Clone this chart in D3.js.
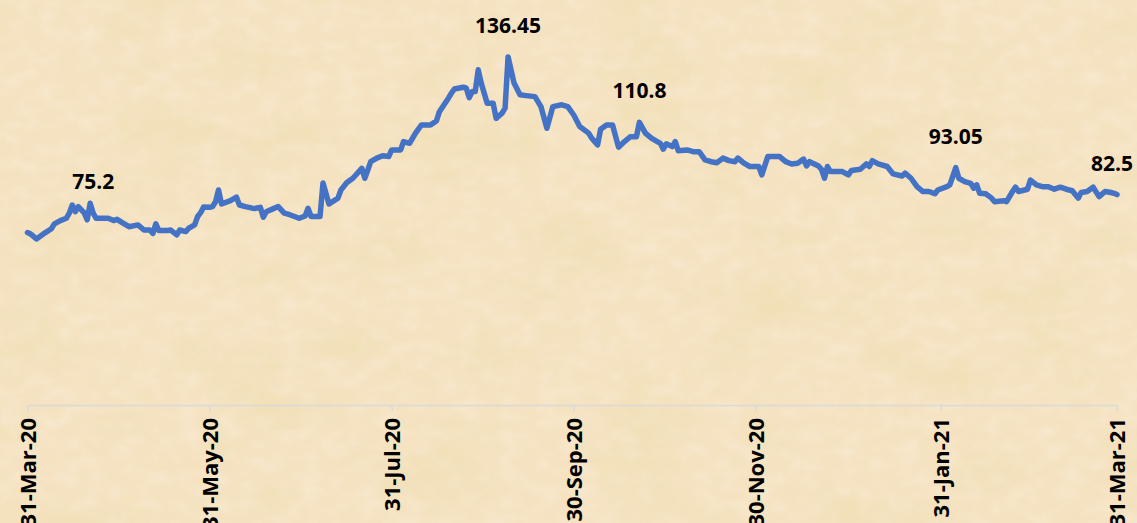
<!DOCTYPE html>
<html>
<head>
<meta charset="utf-8">
<script src="https://cdn.jsdelivr.net/npm/d3@7"></script>
<style>
  body { margin: 0; background: #f5e3c3; }
  svg { display: block; }
</style>
</head>
<body>
<div id="chart"></div>
<script>
// daily closing values
var dates = [
  "2020-03-31","2020-04-01","2020-04-03","2020-04-06","2020-04-08","2020-04-09","2020-04-11","2020-04-13","2020-04-14","2020-04-15",
  "2020-04-16","2020-04-17","2020-04-19","2020-04-20","2020-04-21","2020-04-22","2020-04-23","2020-04-27","2020-04-29","2020-04-30",
  "2020-05-02","2020-05-04","2020-05-07","2020-05-09","2020-05-11","2020-05-12","2020-05-13","2020-05-14","2020-05-17","2020-05-18",
  "2020-05-20","2020-05-21","2020-05-23","2020-05-24","2020-05-26","2020-05-27","2020-05-28","2020-05-29","2020-05-31","2020-06-01",
  "2020-06-02","2020-06-03","2020-06-04","2020-06-07","2020-06-09","2020-06-10","2020-06-12","2020-06-15","2020-06-17","2020-06-18",
  "2020-06-19","2020-06-21","2020-06-23","2020-06-25","2020-06-26","2020-06-28","2020-06-30","2020-07-02","2020-07-03","2020-07-04",
  "2020-07-07","2020-07-08","2020-07-10","2020-07-13","2020-07-14","2020-07-16","2020-07-18","2020-07-21","2020-07-22","2020-07-24",
  "2020-07-26","2020-07-28","2020-07-30","2020-07-31","2020-08-03","2020-08-04","2020-08-06","2020-08-08","2020-08-10","2020-08-13",
  "2020-08-15","2020-08-16","2020-08-19","2020-08-20","2020-08-21","2020-08-24","2020-08-25","2020-08-26","2020-08-27","2020-08-28",
  "2020-08-29","2020-08-30","2020-09-01","2020-09-03","2020-09-04","2020-09-06","2020-09-07","2020-09-08","2020-09-10","2020-09-12",
  "2020-09-14","2020-09-17","2020-09-19","2020-09-21","2020-09-23","2020-09-26","2020-09-28","2020-09-30","2020-10-02","2020-10-05",
  "2020-10-06","2020-10-08","2020-10-09","2020-10-11","2020-10-13","2020-10-15","2020-10-17","2020-10-19","2020-10-21","2020-10-22",
  "2020-10-24","2020-10-26","2020-10-29","2020-10-30","2020-10-31","2020-11-02","2020-11-03","2020-11-04","2020-11-07","2020-11-09",
  "2020-11-11","2020-11-13","2020-11-15","2020-11-17","2020-11-19","2020-11-21","2020-11-23","2020-11-24","2020-11-26","2020-11-28",
  "2020-12-01","2020-12-02","2020-12-04","2020-12-08","2020-12-10","2020-12-12","2020-12-14","2020-12-16","2020-12-17","2020-12-18",
  "2020-12-21","2020-12-22","2020-12-23","2020-12-24","2020-12-25","2020-12-29","2020-12-31","2021-01-01","2021-01-04","2021-01-06",
  "2021-01-07","2021-01-08","2021-01-10","2021-01-13","2021-01-15","2021-01-18","2021-01-19","2021-01-21","2021-01-23","2021-01-25",
  "2021-01-27","2021-01-29","2021-01-30","2021-02-02","2021-02-03","2021-02-05","2021-02-06","2021-02-08","2021-02-10","2021-02-11",
  "2021-02-12","2021-02-13","2021-02-15","2021-02-17","2021-02-18","2021-02-21","2021-02-22","2021-02-24","2021-02-25","2021-02-26",
  "2021-03-01","2021-03-02","2021-03-04","2021-03-06","2021-03-08","2021-03-10","2021-03-12","2021-03-14","2021-03-16","2021-03-18",
  "2021-03-19","2021-03-21","2021-03-23","2021-03-25","2021-03-27","2021-03-29","2021-03-30","2021-03-31"
];
var prices = [
  67.6, 67.1, 65.1, 67.6, 69.1, 71.0, 72.3, 73.2, 75.2, 78.4,
  75.8, 77.8, 75.3, 72.6, 79.1, 75.2, 73.2, 73.2, 72.3, 72.8,
  71.3, 69.9, 70.6, 68.6, 68.6, 67.3, 71.0, 68.4, 68.4, 68.6,
  66.7, 68.6, 68.0, 69.3, 70.6, 73.9, 75.4, 77.6, 77.5, 77.8,
  79.7, 84.3, 78.8, 80.1, 81.5, 78.4, 77.8, 77.0, 77.5, 73.6,
  75.8, 76.8, 77.8, 75.2, 74.9, 74.1, 73.2, 74.1, 77.1, 73.9,
  73.9, 87.0, 78.8, 81.1, 84.3, 87.2, 88.9, 92.8, 88.9, 95.4,
  96.8, 97.7, 97.4, 100.0, 100.0, 103.3, 102.6, 106.6, 109.8, 109.8,
  111.4, 115.0, 120.3, 122.2, 123.9, 124.6, 124.2, 120.5, 122.9, 122.9,
  131.4, 126.2, 118.3, 118.3, 112.4, 114.4, 116.4, 136.45, 126.2, 121.6,
  121.3, 120.9, 117.0, 108.5, 117.0, 117.7, 117.0, 113.7, 109.2, 106.6,
  104.6, 102.0, 108.1, 109.8, 109.8, 101.1, 103.3, 105.2, 105.2, 110.8,
  106.6, 104.6, 102.6, 100.3, 102.4, 101.3, 103.3, 99.7, 100.0, 99.3,
  99.3, 96.1, 95.4, 95.0, 96.8, 95.8, 95.4, 96.8, 94.8, 93.5,
  93.5, 90.2, 97.4, 97.4, 95.4, 94.5, 94.8, 96.4, 93.7, 95.4,
  93.7, 92.4, 88.9, 93.5, 91.5, 91.5, 90.2, 91.9, 92.4, 94.5,
  93.5, 95.8, 94.5, 93.5, 90.6, 89.8, 90.9, 88.9, 85.6, 83.7,
  83.7, 82.8, 84.3, 85.6, 86.3, 93.05, 88.9, 87.6, 86.9, 85.0,
  86.3, 83.0, 82.8, 81.1, 79.7, 80.1, 79.7, 83.7, 85.4, 83.7,
  84.6, 88.2, 86.3, 85.6, 85.6, 84.6, 85.4, 84.6, 84.0, 81.1,
  83.3, 83.7, 85.4, 81.7, 83.7, 83.3, 83.0, 82.5
];

// axis ticks
var tickDates = ["2020-03-31","2020-05-31","2020-07-31","2020-09-30","2020-11-30","2021-01-31","2021-03-31"];

// labelled points
var labelDates = ["2020-04-22","2020-09-08","2020-10-22","2021-02-05","2021-03-31"];
var labelTexts = ["75.2","136.45","110.8","93.05","82.5"];

var width = 1137, height = 523;
var parse = d3.timeParse("%Y-%m-%d");

var data = dates.map(function(d, i) { return {date: parse(d), value: prices[i]}; });

var x = d3.scaleTime()
    .domain([parse("2020-03-31"), parse("2021-03-31")])
    .range([27.5, 1117]);
var y = d3.scaleLinear()
    .domain([0, 158])
    .range([405, 2]);

var svg = d3.select("#chart").append("svg")
    .attr("width", width)
    .attr("height", height);

// parchment background
var defs = svg.append("defs");
var f = defs.append("filter").attr("id", "paper")
    .attr("x", 0).attr("y", 0).attr("width", "100%").attr("height", "100%");
f.append("feTurbulence")
    .attr("type", "fractalNoise")
    .attr("baseFrequency", "0.01 0.018")
    .attr("numOctaves", 4)
    .attr("seed", 11);
f.append("feColorMatrix")
    .attr("type", "matrix")
    .attr("values", "0 0 0 0 0.84  0 0 0 0 0.72  0 0 0 0 0.40  0 0 0 1.9 -0.9");
var f2 = defs.append("filter").attr("id", "grain")
    .attr("x", 0).attr("y", 0).attr("width", "100%").attr("height", "100%");
f2.append("feTurbulence")
    .attr("type", "fractalNoise")
    .attr("baseFrequency", "0.05 0.07")
    .attr("numOctaves", 2)
    .attr("seed", 2);
f2.append("feColorMatrix")
    .attr("type", "matrix")
    .attr("values", "0 0 0 0 1  0 0 0 0 0.95  0 0 0 0 0.86  0 0 0 1.2 -0.5");

svg.append("rect").attr("width", width).attr("height", height).style("fill", "#f5e2c1");
svg.append("rect").attr("width", width).attr("height", height)
    .attr("filter", "url(#grain)").style("opacity", 0.45);
svg.append("rect").attr("width", width).attr("height", height)
    .attr("filter", "url(#paper)").style("opacity", 0.6);

// x axis
var xAxis = svg.append("g")
    .attr("transform", "translate(0,405)")
    .call(d3.axisBottom(x)
      .tickValues(tickDates.map(parse))
      .tickFormat(d3.timeFormat("%d-%b-%y"))
      .tickSize(6)
      .tickSizeOuter(0));
xAxis.select(".domain").style("stroke", "#d9d9d9").style("stroke-width", 1.5);
xAxis.selectAll(".tick line").style("stroke", "#d9d9d9").style("stroke-width", 1.5);
xAxis.selectAll(".tick text")
    .attr("transform", "rotate(-90)")
    .attr("text-anchor", "end")
    .attr("x", -13)
    .attr("y", 0)
    .attr("dy", "0.36em")
    .style("font-family", "'Open Sans', sans-serif")
    .style("font-weight", 700)
    .style("font-size", "22px")
    .style("fill", "#000");

// the line
var line = d3.line()
    .x(function(d) { return x(d.date); })
    .y(function(d) { return y(d.value); });

svg.append("path")
    .datum(data)
    .attr("d", line)
    .style("fill", "none")
    .style("stroke", "#4472c4")
    .style("stroke-width", 5.5)
    .style("stroke-linejoin", "round")
    .style("stroke-linecap", "round");

// data labels
var labels = labelDates.map(function(d, i) {
  var dt = parse(d);
  var pt = data.find(function(p) { return +p.date === +dt; });
  return {date: dt, value: pt.value, text: labelTexts[i]};
});

svg.selectAll(".dlabel")
    .data(labels)
  .enter().append("text")
    .attr("class", "dlabel")
    .attr("x", function(d) { return Math.min(x(d.date), 1112); })
    .attr("y", function(d) { return y(d.value) - 24; })
    .attr("text-anchor", "middle")
    .style("font-family", "'Open Sans', sans-serif")
    .style("font-weight", 700)
    .style("font-size", "21px")
    .style("fill", "#000")
    .text(function(d) { return d.text; });
</script>
</body>
</html>
